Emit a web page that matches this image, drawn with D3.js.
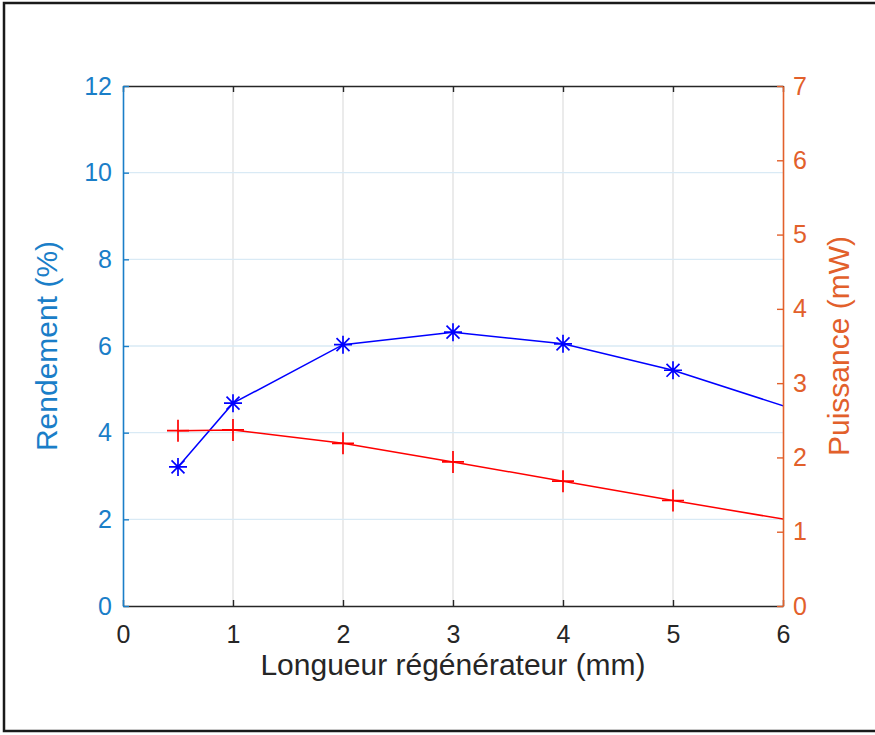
<!DOCTYPE html>
<html lang="fr">
<head>
    <meta charset="UTF-8">
    <style>
        body { margin: 0; background: #fff; }
        svg { display: block; font-family: "Liberation Sans", Arial, sans-serif; }
    </style>
    <script src="https://d3js.org/d3.v7.min.js"></script>
</head>
<body>
    <div id="chart"></div>
    <script>
        // Data
        var longueur = [0.5, 1, 2, 3, 4, 5, 7];
        var rendement = [3.21, 4.68, 6.03, 6.32, 6.05, 5.44, 3.80];
        var puissance = [2.36, 2.37, 2.19, 1.94, 1.68, 1.42, 0.92];
        var xTicks = [0, 1, 2, 3, 4, 5, 6];
        var leftTicks = [0, 2, 4, 6, 8, 10, 12];
        var rightTicks = [0, 1, 2, 3, 4, 5, 6, 7];

        var blueAxis = "#1a7ec8";
        var redAxis = "#e2602b";
        var dark = "#262626";

        var W = 875, H = 735;
        var margin = { top: 86, right: 92, bottom: 129, left: 123 };
        var width = W - margin.left - margin.right;   // 660
        var height = H - margin.top - margin.bottom;  // 520

        var svg = d3.select("#chart").append("svg")
            .attr("width", W)
            .attr("height", H);

        // outer frame (right edge runs off the picture)
        svg.append("rect")
            .attr("x", 4).attr("y", 3)
            .attr("width", 880).attr("height", 728)
            .attr("fill", "none")
            .attr("stroke", "#1a1a1a")
            .attr("stroke-width", 2.5);

        var g = svg.append("g")
            .attr("transform", "translate(" + margin.left + "," + margin.top + ")");

        var x = d3.scaleLinear().domain([0, 6]).range([0, width]);
        var yL = d3.scaleLinear().domain([0, 12]).range([height, 0]);
        var yR = d3.scaleLinear().domain([0, 7]).range([height, 0]);
        var fmt = d3.format("d");

        // grid
        g.append("g").selectAll("line")
            .data(xTicks.slice(1, -1))
            .enter().append("line")
            .attr("x1", d => x(d)).attr("x2", d => x(d))
            .attr("y1", 0).attr("y2", height)
            .attr("stroke", "#e0e0e0").attr("stroke-width", 1.3);
        g.append("g").selectAll("line")
            .data(leftTicks.slice(1, -1))
            .enter().append("line")
            .attr("x1", 0).attr("x2", width)
            .attr("y1", d => yL(d)).attr("y2", d => yL(d))
            .attr("stroke", "#d9eaf5").attr("stroke-width", 1.3);

        // clip to plot box
        svg.append("defs").append("clipPath").attr("id", "clip")
            .append("rect").attr("width", width).attr("height", height);
        var plot = g.append("g").attr("clip-path", "url(#clip)");

        var lineL = d3.line().x((d, i) => x(longueur[i])).y(d => yL(d));
        var lineR = d3.line().x((d, i) => x(longueur[i])).y(d => yR(d));

        plot.append("path").datum(rendement)
            .attr("d", lineL).attr("fill", "none")
            .attr("stroke", "#0000ff").attr("stroke-width", 1.5);
        plot.append("path").datum(puissance)
            .attr("d", lineR).attr("fill", "none")
            .attr("stroke", "#ff0000").attr("stroke-width", 1.5);

        // asterisk markers
        var a = 9, a2 = a * 0.72;
        var star = "M" + (-a) + ",0H" + a + "M0," + (-a) + "V" + a +
            "M" + (-a2) + "," + (-a2) + "L" + a2 + "," + a2 +
            "M" + (-a2) + "," + a2 + "L" + a2 + "," + (-a2);
        plot.selectAll(".star")
            .data(rendement)
            .enter().append("path")
            .attr("class", "star")
            .attr("transform", (d, i) => "translate(" + x(longueur[i]) + "," + yL(d) + ")")
            .attr("d", star)
            .attr("stroke", "#0000ff").attr("stroke-width", 1.7).attr("fill", "none");

        // plus markers
        var p = 11;
        plot.selectAll(".plus")
            .data(puissance)
            .enter().append("path")
            .attr("class", "plus")
            .attr("transform", (d, i) => "translate(" + x(longueur[i]) + "," + yR(d) + ")")
            .attr("d", "M" + (-p) + ",0H" + p + "M0," + (-p) + "V" + p)
            .attr("stroke", "#ff0000").attr("stroke-width", 1.7).attr("fill", "none");

        // axes
        function styleAxis(sel, color) {
            sel.selectAll("path.domain").attr("stroke", color).attr("stroke-width", 1.6);
            sel.selectAll(".tick line").attr("stroke", color).attr("stroke-width", 1.4);
            sel.selectAll(".tick text").attr("fill", color)
                .style("font-size", "25px")
                .style("font-family", "'Liberation Sans', Arial, sans-serif");
        }

        var topAxis = g.append("g")
            .call(d3.axisTop(x).tickValues(xTicks).tickSize(-6).tickSizeOuter(0).tickFormat(""));
        styleAxis(topAxis, dark);

        var bottomAxis = g.append("g")
            .attr("transform", "translate(0," + height + ")")
            .call(d3.axisBottom(x).tickValues(xTicks).tickSize(-6).tickSizeOuter(0).tickFormat(fmt));
        styleAxis(bottomAxis, dark);
        bottomAxis.selectAll(".tick text").attr("y", 29).attr("dy", "0.32em");

        var leftAxis = g.append("g")
            .call(d3.axisLeft(yL).tickValues(leftTicks).tickSize(-6).tickSizeOuter(0)
                .tickPadding(11).tickFormat(fmt));
        styleAxis(leftAxis, blueAxis);

        var rightAxis = g.append("g")
            .attr("transform", "translate(" + width + ",0)")
            .call(d3.axisRight(yR).tickValues(rightTicks).tickSize(-6).tickSizeOuter(0)
                .tickPadding(10).tickFormat(fmt));
        styleAxis(rightAxis, redAxis);

        // axis titles
        g.append("text")
            .attr("x", width / 2).attr("y", height + 69)
            .attr("text-anchor", "middle")
            .attr("fill", dark)
            .style("font-size", "30px")
            .text("Longueur régénérateur (mm)");

        g.append("text")
            .attr("transform", "translate(-66," + (height / 2) + ") rotate(-90)")
            .attr("text-anchor", "middle")
            .attr("fill", blueAxis)
            .style("font-size", "30px")
            .text("Rendement (%)");

        g.append("text")
            .attr("transform", "translate(" + (width + 66) + "," + (height / 2) + ") rotate(-90)")
            .attr("text-anchor", "middle")
            .attr("fill", redAxis)
            .style("font-size", "30px")
            .text("Puissance (mW)");
    </script>
</body>
</html>
